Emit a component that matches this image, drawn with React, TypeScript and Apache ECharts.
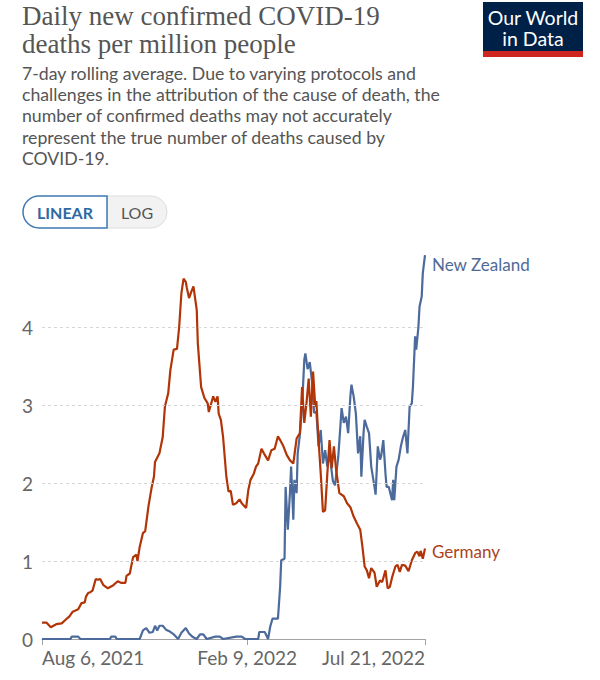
import React, { useEffect, useRef } from "react";
import * as echarts from "echarts";

const axisStart = "2021-08-06";
const axisEnd = "2022-07-21";
const tickDates = ["2021-08-06", "2022-02-09", "2022-07-21"];
const yTicks = [1, 2, 3, 4];
const monthNames = ["Jan", "Feb", "Mar", "Apr", "May", "Jun", "Jul", "Aug", "Sep", "Oct", "Nov", "Dec"];

const titleLines = ["Daily new confirmed COVID-19", "deaths per million people"];
const subtitleLines = [
  "7-day rolling average. Due to varying protocols and",
  "challenges in the attribution of the cause of death, the",
  "number of confirmed deaths may not accurately",
  "represent the true number of deaths caused by",
  "COVID-19.",
];

const germanyDates = [
  "2021-08-06", "2021-08-10", "2021-08-14", "2021-08-19", "2021-08-24", "2021-08-27", "2021-08-31",
  "2021-09-03", "2021-09-08", "2021-09-11", "2021-09-14", "2021-09-15", "2021-09-17", "2021-09-19",
  "2021-09-21", "2021-09-24", "2021-09-26", "2021-09-28", "2021-10-01", "2021-10-05", "2021-10-10",
  "2021-10-14", "2021-10-17", "2021-10-21", "2021-10-22", "2021-10-25", "2021-10-28", "2021-10-31",
  "2021-11-01", "2021-11-03", "2021-11-06", "2021-11-08", "2021-11-11", "2021-11-14", "2021-11-16",
  "2021-11-17", "2021-11-21", "2021-11-24", "2021-11-26", "2021-11-29", "2021-12-01", "2021-12-04",
  "2021-12-07", "2021-12-09", "2021-12-11", "2021-12-13", "2021-12-15", "2021-12-16", "2021-12-18",
  "2021-12-20", "2021-12-22", "2021-12-25", "2021-12-26", "2021-12-29", "2022-01-01", "2022-01-04",
  "2022-01-05", "2022-01-08", "2022-01-09", "2022-01-11", "2022-01-13", "2022-01-14", "2022-01-16",
  "2022-01-18", "2022-01-21", "2022-01-23", "2022-01-25", "2022-01-27", "2022-01-30", "2022-02-02",
  "2022-02-04", "2022-02-08", "2022-02-10", "2022-02-12", "2022-02-15", "2022-02-17", "2022-02-19",
  "2022-02-22", "2022-02-25", "2022-02-28", "2022-03-03", "2022-03-06", "2022-03-09", "2022-03-11",
  "2022-03-14", "2022-03-17", "2022-03-20", "2022-03-23", "2022-03-26", "2022-03-29", "2022-03-31",
  "2022-04-02", "2022-04-04", "2022-04-06", "2022-04-08", "2022-04-10", "2022-04-12", "2022-04-13",
  "2022-04-15", "2022-04-17", "2022-04-19", "2022-04-21", "2022-04-23", "2022-04-25", "2022-04-27",
  "2022-04-29", "2022-05-01", "2022-05-04", "2022-05-08", "2022-05-11", "2022-05-14", "2022-05-17",
  "2022-05-20", "2022-05-23", "2022-05-25", "2022-05-27", "2022-05-29", "2022-05-31", "2022-06-02",
  "2022-06-05", "2022-06-07", "2022-06-10", "2022-06-12", "2022-06-15", "2022-06-17", "2022-06-19",
  "2022-06-21", "2022-06-24", "2022-06-26", "2022-06-28", "2022-06-30", "2022-07-03", "2022-07-06",
  "2022-07-09", "2022-07-12", "2022-07-14", "2022-07-16", "2022-07-17", "2022-07-19", "2022-07-21",
];
const germanyValues = [
  0.21, 0.21, 0.15, 0.19, 0.2, 0.24, 0.29,
  0.35, 0.38, 0.46, 0.47, 0.54, 0.59, 0.6,
  0.62, 0.77, 0.76, 0.77, 0.69, 0.65, 0.69,
  0.74, 0.72, 0.72, 0.81, 0.84, 1.05, 1.08,
  1.0, 1.18, 1.36, 1.38, 1.7, 1.95, 2.08,
  2.27, 2.38, 2.59, 2.98, 3.15, 3.45, 3.71,
  3.72, 4.0, 4.43, 4.62, 4.58, 4.5, 4.37,
  4.45, 4.52, 4.22, 3.79, 3.23, 3.09, 3.02,
  2.91, 3.06, 3.11, 3.04, 3.11, 2.89, 2.81,
  2.59, 2.08, 1.89, 1.9, 1.72, 1.74, 1.79,
  1.74, 1.68, 1.91, 2.04, 2.12, 2.21, 2.25,
  2.44, 2.36, 2.29, 2.42, 2.44, 2.6, 2.55,
  2.47, 2.36, 2.29, 2.25, 2.57, 2.64, 3.23,
  2.77, 3.02, 3.34, 2.85, 3.43, 2.98, 3.05,
  2.55, 2.12, 1.63, 1.65, 2.12, 2.55, 2.19,
  2.47, 2.17, 1.87, 1.83, 1.74, 1.69, 1.57,
  1.48, 1.4, 1.18, 0.93, 0.88, 0.78, 0.91,
  0.85, 0.67, 0.75, 0.73, 0.88, 0.65, 0.67,
  0.79, 0.93, 0.95, 0.86, 0.95, 0.94, 0.87,
  1.01, 1.1, 1.12, 1.06, 1.13, 1.03, 1.16,
];

const nzDates = [
  "2021-08-06", "2021-09-01", "2021-09-02", "2021-09-08", "2021-09-10", "2021-10-07", "2021-10-08",
  "2021-10-12", "2021-10-13", "2021-11-03", "2021-11-06", "2021-11-09", "2021-11-12", "2021-11-15",
  "2021-11-17", "2021-11-19", "2021-11-21", "2021-11-24", "2021-11-27", "2021-11-30", "2021-12-04",
  "2021-12-08", "2021-12-11", "2021-12-15", "2021-12-18", "2021-12-21", "2021-12-25", "2021-12-28",
  "2021-12-31", "2022-01-03", "2022-01-11", "2022-01-15", "2022-01-18", "2022-01-30", "2022-02-04",
  "2022-02-07", "2022-02-19", "2022-02-20", "2022-02-25", "2022-02-28", "2022-03-02", "2022-03-04",
  "2022-03-09", "2022-03-11", "2022-03-12", "2022-03-15", "2022-03-16", "2022-03-18", "2022-03-20",
  "2022-03-21", "2022-03-23", "2022-03-24", "2022-03-26", "2022-03-27", "2022-03-29", "2022-03-31",
  "2022-04-02", "2022-04-03", "2022-04-05", "2022-04-07", "2022-04-09", "2022-04-11", "2022-04-13",
  "2022-04-15", "2022-04-17", "2022-04-19", "2022-04-21", "2022-04-23", "2022-04-25", "2022-04-28",
  "2022-04-30", "2022-05-03", "2022-05-05", "2022-05-06", "2022-05-08", "2022-05-10", "2022-05-12",
  "2022-05-14", "2022-05-15", "2022-05-17", "2022-05-19", "2022-05-21", "2022-05-23", "2022-05-24",
  "2022-05-26", "2022-05-27", "2022-05-29", "2022-05-31", "2022-06-02", "2022-06-05", "2022-06-06",
  "2022-06-08", "2022-06-10", "2022-06-11", "2022-06-13", "2022-06-15", "2022-06-16", "2022-06-18",
  "2022-06-21", "2022-06-22", "2022-06-23", "2022-06-25", "2022-06-27", "2022-06-29", "2022-07-01",
  "2022-07-03", "2022-07-05", "2022-07-07", "2022-07-09", "2022-07-10", "2022-07-12", "2022-07-13",
  "2022-07-15", "2022-07-16", "2022-07-18", "2022-07-19", "2022-07-21",
];
const nzValues = [
  0, 0, 0.03, 0.03, 0, 0, 0.03,
  0.03, 0, 0, 0.11, 0.14, 0.08, 0.09,
  0.17, 0.11, 0.17, 0.17, 0.12, 0.1, 0.06,
  0, 0.08, 0.14, 0.07, 0.03, 0, 0.06,
  0.06, 0, 0.03, 0.03, 0, 0.03, 0.03,
  0, 0, 0.09, 0.09, 0, 0.16, 0.26,
  0.26, 0.67, 1.01, 1.03, 1.95, 1.4, 1.89,
  2.21, 1.53, 2.04, 1.87, 2.38, 2.62, 2.98,
  3.58, 3.66, 3.46, 3.55, 3.3, 2.9, 2.91,
  2.47, 2.68, 2.25, 2.42, 2.21, 2.38, 2.03,
  1.97, 2.34, 2.75, 2.96, 2.77, 2.85, 2.64,
  3.11, 3.26, 3.11, 2.89, 2.38, 2.6, 2.08,
  2.64, 2.81, 2.72, 2.64, 2.21, 1.95, 1.85,
  2.47, 2.3, 2.34, 2.55, 2.12, 1.95, 1.95,
  1.78, 2.04, 1.78, 2.21, 2.3, 2.47, 2.59,
  2.68, 2.38, 2.98, 3.02, 3.23, 3.88, 3.71,
  4.0, 4.26, 4.39, 4.69, 4.92,
];

const seriesNames = ["New Zealand", "Germany"];
const seriesColors = ["#4c6a9c", "#b13507"];
const labelColors = ["#4f6a96", "#a9431d"];

const ts = (s: string) => {
  const [y, m, d] = s.split("-").map(Number);
  return new Date(y, m - 1, d).getTime();
};

const fmtDate = (v: number) => {
  const d = new Date(v);
  return `${monthNames[d.getMonth()]} ${d.getDate()}, ${d.getFullYear()}`;
};

export default function App() {
  const ref = useRef<HTMLDivElement>(null);

  useEffect(() => {
    if (!ref.current) return;
    const chart = echarts.init(ref.current, null, { renderer: "svg" });
    const tickTs = tickDates.map(ts);
    const font = "Lato";
    const graphics: any[] = [];

    titleLines.forEach((t, i) => {
      graphics.push({
        type: "text",
        x: 22,
        y: 16 + i * 28.2,
        style: {
          text: t,
          fill: "#555555",
          fontSize: 27,
          fontFamily: "Liberation Serif",
          verticalAlign: "middle",
        },
      });
    });
    subtitleLines.forEach((t, i) => {
      graphics.push({
        type: "text",
        x: 22,
        y: 73 + i * 21.4,
        style: {
          text: t,
          fill: "#555555",
          fontSize: 17.7,
          fontFamily: font,
          verticalAlign: "middle",
        },
      });
    });
    // logo
    graphics.push(
      { type: "rect", shape: { x: 483, y: 2, width: 100, height: 55 }, style: { fill: "#002147" } },
      { type: "rect", shape: { x: 483, y: 51, width: 100, height: 6 }, style: { fill: "#ce261e" } },
      {
        type: "text",
        x: 533,
        y: 17,
        style: { text: "Our World", fill: "#ffffff", fontSize: 19.5, fontFamily: font, align: "center", verticalAlign: "middle" },
      },
      {
        type: "text",
        x: 533,
        y: 38,
        style: { text: "in Data", fill: "#ffffff", fontSize: 19.5, fontFamily: font, align: "center", verticalAlign: "middle" },
      }
    );
    // linear / log toggle
    graphics.push(
      {
        type: "rect",
        shape: { x: 107, y: 196, width: 60, height: 32, r: [0, 16, 16, 0] },
        style: { fill: "#f2f2f2", stroke: "#dddddd", lineWidth: 1 },
      },
      {
        type: "rect",
        shape: { x: 23, y: 196, width: 84, height: 32, r: [16, 0, 0, 16] },
        style: { fill: "#ffffff", stroke: "#3d7ab3", lineWidth: 1.5 },
      },
      {
        type: "text",
        x: 65,
        y: 212,
        style: { text: "LINEAR", fill: "#2d69a3", fontSize: 16, fontWeight: "bold", fontFamily: font, align: "center", verticalAlign: "middle" },
      },
      {
        type: "text",
        x: 137,
        y: 212,
        style: { text: "LOG", fill: "#555555", fontSize: 16, fontFamily: font, align: "center", verticalAlign: "middle" },
      }
    );

    const option: any = {
      animation: false,
      textStyle: { fontFamily: font },
      graphic: graphics,
      grid: { left: 42, right: 175, top: 249, bottom: 41, outerBoundsMode: "none" },
      xAxis: {
        type: "value",
        min: ts(axisStart),
        max: ts(axisEnd),
        axisLine: { show: true, lineStyle: { color: "#a3a3a3", width: 1 } },
        axisTick: { show: true, customValues: tickTs, length: 6, lineStyle: { color: "#a3a3a3" } },
        axisLabel: {
          customValues: tickTs,
          formatter: (v: number) => fmtDate(v),
          color: "#666666",
          fontSize: 19,
          margin: 9,
          alignMinLabel: "left",
          alignMaxLabel: "right",
        },
        splitLine: { show: false },
      },
      yAxis: {
        type: "value",
        min: 0,
        max: 5,
        interval: 1,
        axisLine: { show: false },
        axisTick: { show: false },
        splitLine: { show: false },
        axisLabel: {
          color: "#666666",
          fontSize: 19,
          margin: 9,
          formatter: (v: number) => (v === 5 ? "" : String(v)),
        },
      },
      series: [
        {
          name: seriesNames[0],
          type: "line",
          showSymbol: false,
          data: nzDates.map((d, i) => [ts(d), nzValues[i]]),
          lineStyle: { color: seriesColors[0], width: 2.2 },
          itemStyle: { color: seriesColors[0] },
          z: 3,
          markLine: {
            silent: true,
            symbol: ["none", "none"],
            label: { show: false },
            lineStyle: { color: "#d6d6d6", type: [3, 3], width: 1 },
            data: yTicks.map((v) => ({ yAxis: v })),
          },
          endLabel: {
            show: true,
            formatter: "{a}",
            color: labelColors[0],
            fontSize: 17,
            fontFamily: font,
            distance: 7,
            offset: [0, 9],
          },
        },
        {
          name: seriesNames[1],
          type: "line",
          showSymbol: false,
          data: germanyDates.map((d, i) => [ts(d), germanyValues[i]]),
          lineStyle: { color: seriesColors[1], width: 2.2 },
          itemStyle: { color: seriesColors[1] },
          z: 4,
          endLabel: {
            show: true,
            formatter: "{a}",
            color: labelColors[1],
            fontSize: 17,
            fontFamily: font,
            distance: 7,
            offset: [0, 3],
          },
        },
      ],
    };
    chart.setOption(option);
    return () => chart.dispose();
  }, []);

  return (
    <div
      ref={ref}
      style={{ position: "absolute", left: 0, top: 0, width: 600, height: 680, background: "#ffffff" }}
    />
  );
}
